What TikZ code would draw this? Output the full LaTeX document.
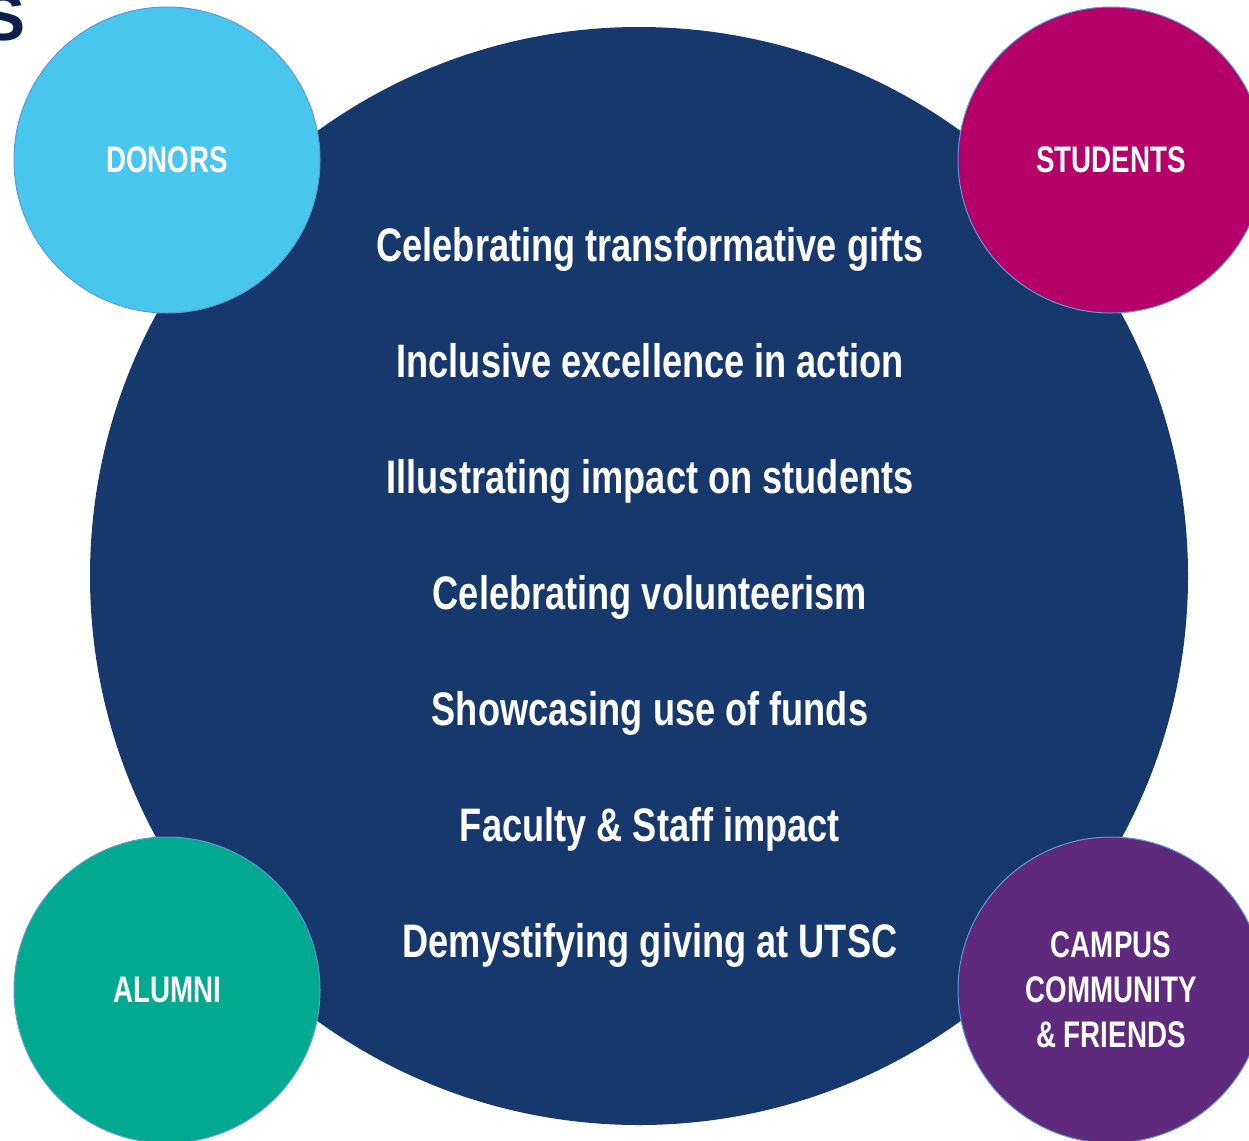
\documentclass[tikz,border=0pt]{standalone}
\usepackage{fontspec}
\setmainfont{Liberation Sans}
\newfontfamily\labelfont[FakeStretch=0.75]{Liberation Sans}
\newfontfamily\themefont[FakeStretch=0.77]{Liberation Sans}
\definecolor{hubnavy}{HTML}{17386C}
\definecolor{titlenavy}{HTML}{0B1F4A}
\definecolor{rimblue}{HTML}{5B9BD5}
\definecolor{donorblue}{HTML}{48C6EE}
\definecolor{studentmag}{HTML}{B5006A}
\definecolor{alumniteal}{HTML}{00A98F}
\definecolor{campuspurple}{HTML}{5F2A7D}

\begin{document}
\begin{tikzpicture}[x=1pt,y=-1pt,
  bubble/.style={circle,draw=rimblue,line width=1pt,minimum size=306pt,
    inner sep=0pt,text=white,align=center,
    font=\labelfont\bfseries\fontsize{37}{45}\selectfont},
  topic/.style={anchor=base,inner sep=0pt,text=white,
    font=\themefont\bfseries\fontsize{47}{54}\selectfont}]

\useasboundingbox (0,0) rectangle (1249,1140);

% Title fragment cut by the page edge
\node[anchor=base east,inner sep=0pt,text=titlenavy,
  font=\fontsize{66}{68}\selectfont\bfseries] (title) at (26,41) {S};

% Central circle
\node[circle,fill=hubnavy,minimum size=1098pt,inner sep=0pt] (hub) at (639,576) {};

% Audience circles
\node[bubble,fill=donorblue] (donors) at (167,160) {DONORS};
\node[bubble,fill=studentmag] (students) at (1111,160) {STUDENTS};
\node[bubble,fill=alumniteal] (alumni) at (167,990) {ALUMNI};
\node[bubble,fill=campuspurple] (campus) at (1111,990) {CAMPUS\\COMMUNITY\\\& FRIENDS};

% Story themes
\foreach \txt [count=\i] in {Celebrating transformative gifts,
    Inclusive excellence in action,
    Illustrating impact on students,
    Celebrating volunteerism,
    Showcasing use of funds,
    Faculty \& Staff impact,
    Demystifying giving at UTSC}
  \node[topic] (theme\i) at (650,{261+116*(\i-1)}) {\txt};

\end{tikzpicture}
\end{document}
